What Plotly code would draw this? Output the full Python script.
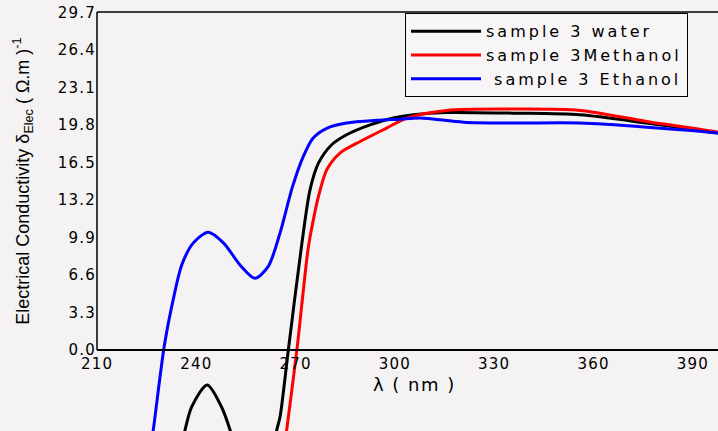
import plotly.graph_objects as go

# ---- data ----
water_x = [232, 236.6, 238.6, 243.3, 247.6, 250.2, 254, 258, 262, 264.3, 265.3, 267.8,
           271.7, 274.35, 276.9, 280.9, 285.4, 292.5, 299.5, 305.6, 315.6, 335.8, 355.9,
           376.1, 397.6, 400]
water_y = [-13, -7.04, -5.0, -3.08, -5.0, -7.04, -11, -13, -11, -7.04, -5.87, 0,
           8.95, 14.08, 16.43, 18.05, 18.93, 19.8, 20.4, 20.69, 20.89, 20.83, 20.69,
           19.96, 19.08, 18.9]

methanol_x = [262, 265, 267.3, 270.5, 273.8, 275.35, 276.9, 279.4, 283.4, 289.5, 297.5,
              303.6, 315.6, 335.8, 355.9, 376.1, 397.6, 400]
methanol_y = [-18, -12, -7.04, 0.3, 8.95, 11.44, 13.5, 15.85, 17.32, 18.34, 19.52,
              20.4, 21.07, 21.19, 21.07, 20.1, 19.15, 18.95]

ethanol_x = [225, 227, 230.3, 233, 235.6, 239.1, 243.6, 248.2, 253.2, 257.7, 261.7,
             265.3, 269, 272.3, 275.3, 279.4, 285.4, 294.5, 301.5, 307.6, 320.7, 335.8,
             355.9, 376.1, 397.6, 400]
ethanol_y = [-11, -7.04, 0.3, 4.4, 7.48, 9.42, 10.36, 9.42, 7.48, 6.31, 7.33,
             10.3, 14.3, 17.0, 18.64, 19.5, 19.96, 20.2, 20.3, 20.4, 20.04, 19.96,
             19.96, 19.6, 19.08, 18.95]

series_names = ["sample 3 water", "sample 3Methanol", "\u00a0sample 3 Ethanol"]
series_colors = ["#000000", "#ff0000", "#0000ff"]

x_ticks = [210, 240, 270, 300, 330, 360, 390]
y_ticks = [0.0, 3.3, 6.6, 9.9, 13.2, 16.5, 19.8, 23.1, 26.4, 29.7]

x_range = [210, 397.6]
y_range = [-7.13, 29.73]

bg = "#f4f2f2"


def wide(s, ls):
    return '<span style="letter-spacing:%spx">%s</span>' % (ls, s)


fig = go.Figure()
for xs, ys, name, col in zip([water_x, methanol_x, ethanol_x],
                             [water_y, methanol_y, ethanol_y],
                             series_names, series_colors):
    fig.add_trace(go.Scatter(x=xs, y=ys, mode="lines", name=wide(name, 3),
                             line=dict(color=col, width=3, shape="spline", smoothing=0.8)))

xpos = (0 - y_range[0]) / (y_range[1] - y_range[0])

fig.update_layout(
    width=718, height=431,
    margin=dict(l=97, r=0, t=12, b=0, autoexpand=False),
    paper_bgcolor=bg, plot_bgcolor=bg,
    font=dict(family="DejaVu Sans", color="black"),
    showlegend=True,
    legend=dict(x=(405 - 97) / 621, y=0.997, xanchor="left", yanchor="top",
                bgcolor="#f7f5f5", bordercolor="black", borderwidth=1,
                font=dict(family="DejaVu Sans", size=16, color="black"),
                itemwidth=70, tracegroupgap=0),
    xaxis=dict(range=x_range, tickvals=x_ticks,
               ticktext=[wide(str(v), 1.2) for v in x_ticks],
               showgrid=False, zeroline=False, showline=True, linecolor="black",
               linewidth=1.5, ticks="", anchor="free", position=xpos,
               tickfont=dict(family="DejaVu Sans", size=15, color="black")),
    yaxis=dict(range=y_range, tickvals=y_ticks,
               ticktext=[wide(f"{v:.1f}", 1.2) for v in y_ticks],
               showgrid=False, zeroline=False, showline=False,
               ticks="",
               tickfont=dict(family="DejaVu Sans", size=15, color="black")),
    shapes=[
        dict(type="line", xref="paper", yref="paper", x0=0, x1=1, y0=1, y1=1,
             line=dict(color="black", width=1.5)),
        dict(type="line", xref="paper", yref="y", x0=0, x1=0, y0=0, y1=y_range[1],
             line=dict(color="black", width=1.5)),
    ],
    annotations=[
        dict(text="Electrical Conductivity δ<sub>Elec</sub> ( Ω.m )<sup>-1</sup>",
             xref="paper", yref="y", x=(23 - 97) / 621, y=14.8, textangle=-90,
             xanchor="center", yanchor="middle", showarrow=False,
             font=dict(family="Liberation Sans", size=18, color="black")),
        dict(text=wide("λ ( nm )", 1.5), xref="x", yref="y", x=306, y=-3.0,
             xanchor="center", yanchor="middle", showarrow=False,
             font=dict(family="DejaVu Sans", size=18, color="black")),
    ],
)

fig.write_html("out.html")
